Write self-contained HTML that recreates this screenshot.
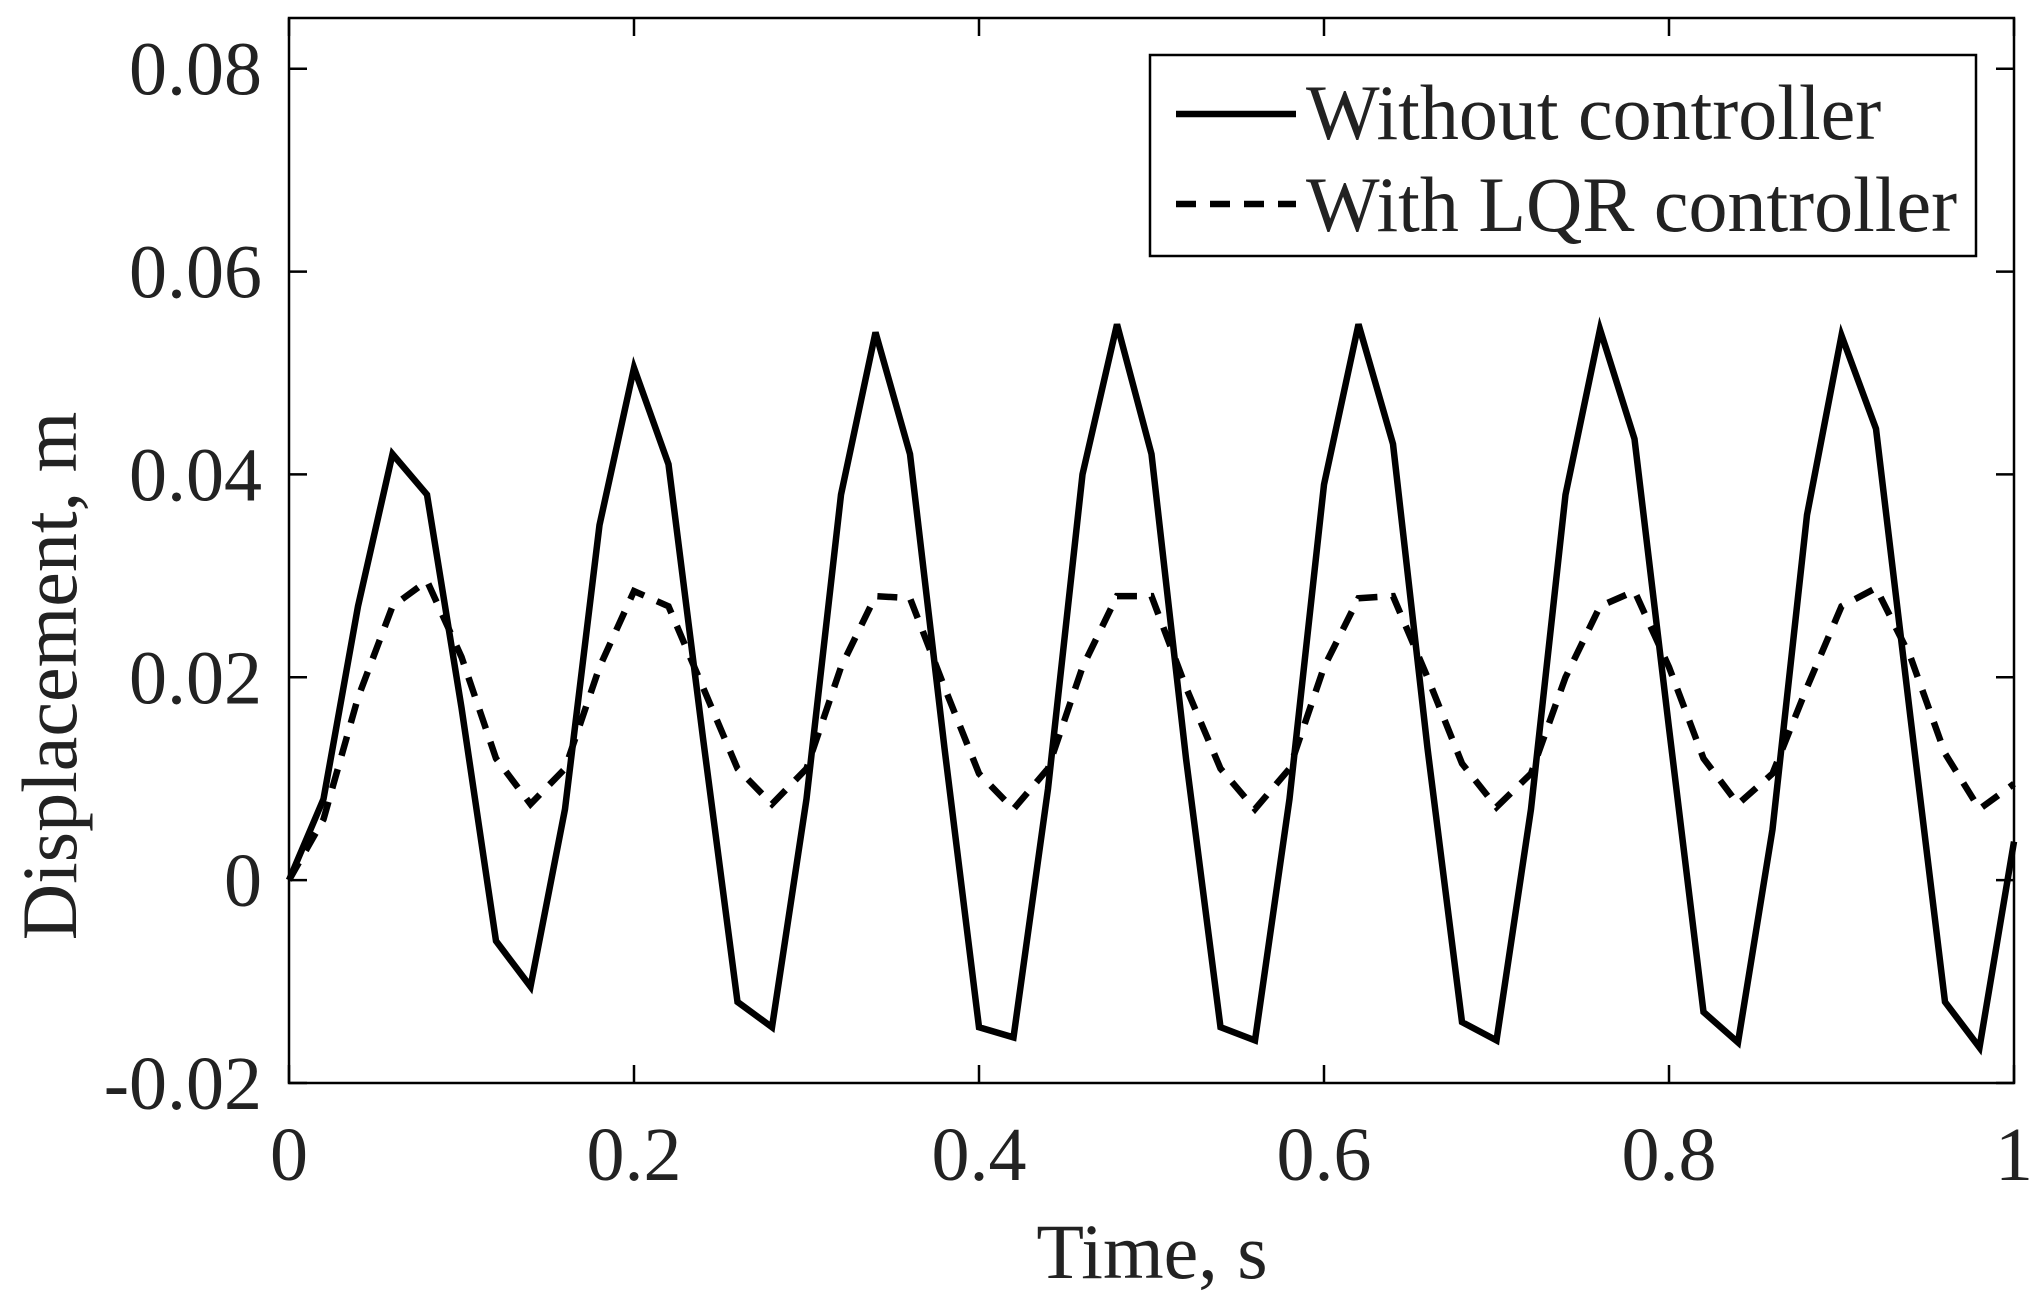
<!DOCTYPE html>
<html><head><meta charset="utf-8"><style>
html,body{margin:0;padding:0;background:#fff}
svg{display:block;font-family:"Liberation Serif",serif}
</style></head><body>
<svg id="chart" width="2040" height="1302" viewBox="0 0 2040 1302"></svg>
<script>
const timeValues=[0,0.02,0.04,0.06,0.08,0.10,0.12,0.14,0.16,0.18,0.20,0.22,0.24,0.26,0.28,0.30,0.32,0.34,0.36,0.38,0.40,0.42,0.44,0.46,0.48,0.50,0.52,0.54,0.56,0.58,0.60,0.62,0.64,0.66,0.68,0.70,0.72,0.74,0.76,0.78,0.80,0.82,0.84,0.86,0.88,0.90,0.92,0.94,0.96,0.98,1.00];
const withoutController=[0,0.008,0.027,0.042,0.038,0.017,-0.006,-0.0105,0.007,0.035,0.0505,0.041,0.014,-0.012,-0.0145,0.008,0.038,0.054,0.042,0.013,-0.0145,-0.0155,0.009,0.040,0.0548,0.042,0.012,-0.0145,-0.0158,0.008,0.039,0.0548,0.043,0.013,-0.014,-0.0158,0.007,0.038,0.0543,0.0435,0.015,-0.013,-0.016,0.005,0.036,0.0537,0.0445,0.016,-0.012,-0.0165,0.0038];
const withLQR=[0,0.006,0.018,0.027,0.0295,0.022,0.012,0.0075,0.011,0.021,0.0285,0.027,0.019,0.011,0.0075,0.011,0.021,0.028,0.0278,0.019,0.0105,0.007,0.011,0.021,0.028,0.028,0.019,0.011,0.007,0.011,0.021,0.0278,0.028,0.02,0.0115,0.0072,0.0105,0.02,0.027,0.0285,0.021,0.012,0.0075,0.0105,0.019,0.027,0.0288,0.022,0.0125,0.007,0.0095];
const xTicks=[0,0.2,0.4,0.6,0.8,1];
const xTickLabels=["0","0.2","0.4","0.6","0.8","1"];
const yTicks=[-0.02,0,0.02,0.04,0.06,0.08];
const yTickLabels=["-0.02","0","0.02","0.04","0.06","0.08"];

const L=289,R=2014,T=18,B=1083;
const x0=0,x1=1,y0=-0.02,y1=0.085;
const X=v=>L+(v-x0)/(x1-x0)*(R-L);
const Y=v=>B-(v-y0)/(y1-y0)*(B-T);
const svg=document.getElementById('chart');
const NS='http://www.w3.org/2000/svg';
function mk(tag,attrs,parent){const e=document.createElementNS(NS,tag);for(const k in attrs)e.setAttribute(k,attrs[k]);(parent||svg).appendChild(e);return e;}

function path(vals){return vals.map((v,i)=>(i?'L':'M')+X(timeValues[i]).toFixed(1)+','+Y(v).toFixed(1)).join(' ');}
const s1=mk('path',{d:path(withoutController),fill:'none',stroke:'#000','stroke-width':6.5,'stroke-linejoin':'miter'});


const s2=mk('path',{d:path(withLQR),fill:'none',stroke:'#000','stroke-width':6.5,'stroke-dasharray':'20 14'});



const box=mk('rect',{x:L,y:T,width:R-L,height:B-T,fill:'none',stroke:'#000','stroke-width':2.5});



xTicks.forEach((v,i)=>{
  const x=X(v);
  mk('line',{x1:x,y1:B,x2:x,y2:B-18,stroke:'#000','stroke-width':2.5});
  mk('line',{x1:x,y1:T,x2:x,y2:T+18,stroke:'#000','stroke-width':2.5});
  const t=mk('text',{x:x,y:1180,'text-anchor':'middle','font-size':76,fill:'#222'});
  t.textContent=xTickLabels[i];
  
  
});
yTicks.forEach((v,i)=>{
  const y=Y(v);
  mk('line',{x1:L,y1:y,x2:L+18,y2:y,stroke:'#000','stroke-width':2.5});
  mk('line',{x1:R,y1:y,x2:R-18,y2:y,stroke:'#000','stroke-width':2.5});
  const t=mk('text',{x:262,y:y+26,'text-anchor':'end','font-size':76,fill:'#222'});
  t.textContent=yTickLabels[i];
  
  
});
const xl=mk('text',{x:1152,y:1278,'text-anchor':'middle','font-size':78,fill:'#222'});
xl.textContent='Time, s';


const yl=mk('text',{x:0,y:0,'text-anchor':'middle','font-size':78,fill:'#222',transform:'translate(76,676) rotate(-90)'});
yl.textContent='Displacement, m';



const lg=mk('g',{});


mk('rect',{x:1150,y:55,width:826,height:201,fill:'#fff',stroke:'#000','stroke-width':2.5},lg);
mk('line',{x1:1176,y1:114,x2:1296,y2:114,stroke:'#000','stroke-width':6.5},lg);
mk('line',{x1:1176,y1:204,x2:1296,y2:204,stroke:'#000','stroke-width':6.5,'stroke-dasharray':'20 14'},lg);
const l1=mk('text',{x:1306,y:139,'font-size':78,fill:'#222'},lg);
l1.textContent='Without controller';


const l2=mk('text',{x:1306,y:231,'font-size':78,fill:'#222'},lg);
l2.textContent='With LQR controller';


</script>
</body></html>
